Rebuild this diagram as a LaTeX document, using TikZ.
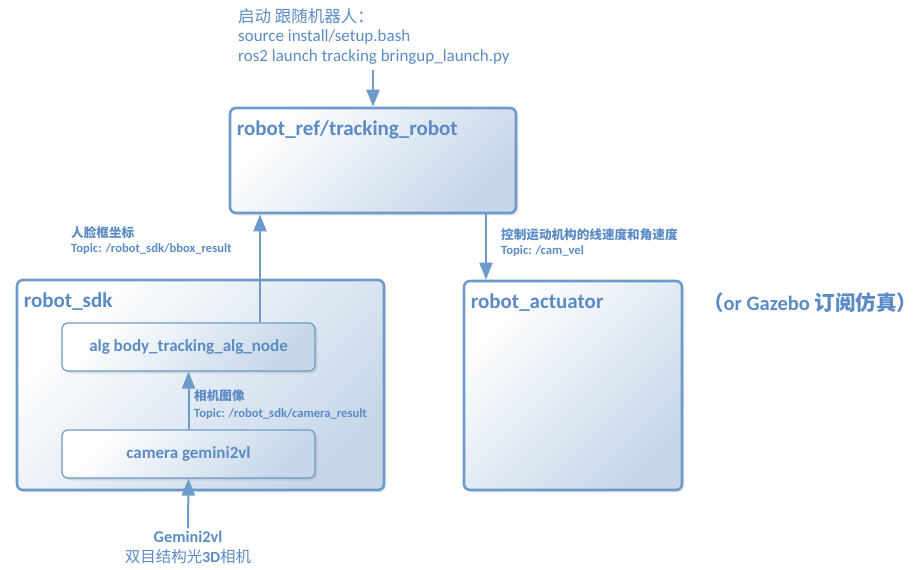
\documentclass[tikz,border=0pt]{standalone}
\usepackage{fontspec}
\setmainfont{Carlito}
\newfontfamily\cjk{Noto Sans CJK SC}
\usetikzlibrary{arrows.meta,shadows}
\definecolor{boxblue}{HTML}{6C9BCB}
\definecolor{txtblue}{HTML}{5B8BC5}
\definecolor{shadeblue}{HTML}{C6D7E9}
\begin{document}
\begin{tikzpicture}[
    x=1pt, y=-1pt,
    bigbox/.style={rectangle, draw=boxblue, line width=2.6pt, rounded corners=6pt,
        left color=white, middle color=white, right color=shadeblue, shading angle=45,
        drop shadow={opacity=0.15, shadow xshift=2.5pt, shadow yshift=-2.5pt}},
    smallbox/.style={bigbox, line width=1.2pt,
        drop shadow={opacity=0.1, shadow xshift=1.5pt, shadow yshift=-1.5pt}},
    title/.style={anchor=base west, inner sep=0pt, text=txtblue, font=\bfseries\fontsize{21}{24}\selectfont},
    boxtext/.style={text=txtblue, font=\bfseries\fontsize{17}{20}\selectfont},
    topic/.style={anchor=north west, inner sep=0pt, align=left, text=txtblue, font=\bfseries\fontsize{12.6}{15.5}\selectfont},
    arrow/.style={draw=boxblue, line width=2pt, -{Triangle[length=17pt,width=13pt]}}
]
\useasboundingbox (0,0) rectangle (921,570);

% Launch command
\node[anchor=north west, inner sep=0pt, align=left, text=txtblue, font=\fontsize{17}{19.5}\selectfont]
    (launch) at (238,8) {{\cjk\fontsize{16.5}{19.5}\selectfont 启动 跟随机器人：}\\source install/setup.bash\\ros2 launch tracking bringup\_launch.py};

% Main boxes
\node[bigbox, minimum width=286pt, minimum height=105pt] (tracking) at (373,160.5) {};
\node[bigbox, minimum width=367pt, minimum height=210pt] (sdk) at (200.5,385) {};
\node[bigbox, minimum width=218pt, minimum height=209pt] (actuator) at (573,385.5) {};

% Nodes inside robot_sdk
\node[smallbox, minimum width=253pt, minimum height=48pt, boxtext] (alg) at (188.5,347) {alg body\_tracking\_alg\_node};
\node[smallbox, minimum width=253pt, minimum height=48pt, boxtext] (camera) at (188.5,454) {camera gemini2vl};

% Box titles
\node[title] (trackingtitle) at ([xshift=8pt,yshift=-29pt]tracking.north west) {robot\_ref/tracking\_robot};
\node[title] (sdktitle) at ([xshift=8pt,yshift=-29pt]sdk.north west) {robot\_sdk};
\node[title] (actuatortitle) at ([xshift=8pt,yshift=-29pt]actuator.north west) {robot\_actuator};
\node[anchor=base west, inner sep=0pt, text=txtblue, font=\bfseries\fontsize{20.5}{24}\selectfont]
    (gazebo) at (703,310) {{\cjk （}or Gazebo {\cjk 订阅仿真）}};

% Camera source
\node[inner sep=0pt, align=center, text=txtblue, font=\fontsize{15.5}{20}\selectfont]
    (gemini) at (188,547) {\textbf{\fontsize{16.3}{20}\selectfont Gemini2vl}\\{\cjk 双目结构光}\textbf{3D}{\cjk 相机}};

% Topic labels
\node[topic] (bbox) at (71,226) {{\cjk 人脸框坐标}\\Topic: /robot\_sdk/bbox\_result};
\node[topic] (image) at (194,390) {{\cjk 相机图像}\\[1.5pt]Topic: /robot\_sdk/camera\_result};
\node[topic] (vel) at (501,228) {{\cjk 控制运动机构的线速度和角速度}\\Topic: /cam\_vel};

% Connections
\draw[arrow, shorten <=6pt] (tracking.north |- launch.south) -- (tracking.north);
\draw[arrow] ([xshift=71.5pt]alg.north) -- ([xshift=71.5pt]alg.north |- tracking.south);
\draw[arrow] ([xshift=113pt]tracking.south) -- ([xshift=113pt]tracking.south |- actuator.north);
\draw[arrow] (camera.north) -- (alg.south);
\draw[arrow, shorten <=2pt] (gemini.north) -- (camera.south);

\end{tikzpicture}
\end{document}
